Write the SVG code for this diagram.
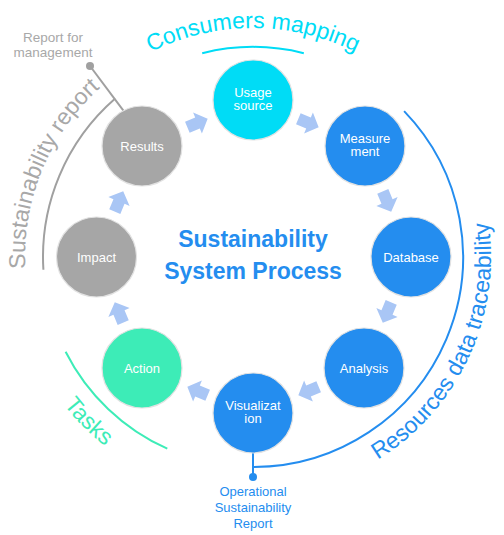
<svg xmlns="http://www.w3.org/2000/svg" xmlns:xlink="http://www.w3.org/1999/xlink" width="504" height="535" viewBox="0 0 504 535">
<style>
  text { font-family: "Liberation Sans", Arial, sans-serif; }
  .node circle { stroke: #e2e2e2; stroke-width: 1.2; }
  .lbl { fill: #ffffff; font-size: 13px; text-anchor: middle; }
  .cyan { fill: #00DCF6; }
  .blue { fill: #248DEF; }
  .green { fill: #3DECB7; }
  .grey { fill: #A6A6A6; }
  .arrow { fill: #A9C6F5; }
  .arc { fill: none; stroke-width: 2; }
  .arctext { font-size: 23px; }
</style>
<defs>
  <polygon id="arr" points="-11,-6 0,-6 0,-11.5 11,0 0,11.5 0,6 -11,6"/>
  <path id="p-consumers" d="M54.7,142.5 A229,229 0 0 1 451.3,142.5"/>
  <path id="p-sustain" d="M72.1,395.8 A228,228 0 0 1 223.2,31.0"/>
  <path id="p-resources" d="M211.7,491.4 A238,238 0 0 0 406,74.7"/>
  <path id="p-tasks" d="M13.9,277.9 A240,240 0 0 0 232.1,496.1"/>
</defs>
<rect width="504" height="535" fill="#ffffff"/>

<g id="arcs">
  <path class="arc" d="M202.2,53.2 A210,210 0 0 1 303.8,53.2" stroke="#00DCF6" stroke-width="2.5"/>
  <path class="arc" d="M43.4,269.8 A210,210 0 0 1 115.2,98.5" stroke="#A0A0A0"/>
  <line x1="90" y1="66" x2="123.4" y2="110.6" stroke="#A0A0A0" stroke-width="2"/>
  <circle cx="90" cy="66" r="4" fill="#A0A0A0"/>
  <path class="arc" d="M404.1,111.1 A210,210 0 0 1 253,467" stroke="#248DEF"/>
  <line x1="253" y1="452" x2="253" y2="477" stroke="#248DEF" stroke-width="2"/>
  <circle cx="253" cy="477" r="4" fill="#248DEF"/>
  <path class="arc" d="M167.3,448.7 A210,210 0 0 1 65.6,351.7" stroke="#3DECB7"/>
</g>

<g id="arc-labels" class="arctext">
  <text fill="#00DCF6"><textPath xlink:href="#p-consumers" href="#p-consumers" startOffset="50%" text-anchor="middle">Consumers mapping</textPath></text>
  <text fill="#A8A8A8"><textPath xlink:href="#p-sustain" href="#p-sustain" startOffset="50%" text-anchor="middle">Sustainability report</textPath></text>
  <text fill="#248DEF"><textPath xlink:href="#p-resources" href="#p-resources" startOffset="50%" text-anchor="middle">Resources data traceability</textPath></text>
  <text fill="#3DECB7"><textPath xlink:href="#p-tasks" href="#p-tasks" startOffset="50%" text-anchor="middle">Tasks</textPath></text>
</g>

<g id="notes" font-size="13.5" text-anchor="middle">
  <text x="53" y="42" fill="#A8A8A8">Report for</text>
  <text x="53" y="57" fill="#A8A8A8">management</text>
  <text x="253" y="496" fill="#248DEF" font-size="13">Operational</text>
  <text x="253" y="512" fill="#248DEF" font-size="13">Sustainability</text>
  <text x="253" y="528" fill="#248DEF" font-size="13">Report</text>
</g>

<g id="title" fill="#248DEF" font-weight="bold" font-size="23" text-anchor="middle">
  <text x="253" y="247">Sustainability</text>
  <text x="253" y="279">System Process</text>
</g>

<g id="connectors" class="arrow">
  <use href="#arr" xlink:href="#arr" transform="translate(197.5,123) rotate(-22.5)"/>
  <use href="#arr" xlink:href="#arr" transform="translate(308.5,123) rotate(22.5)"/>
  <use href="#arr" xlink:href="#arr" transform="translate(387,201.5) rotate(67.5)"/>
  <use href="#arr" xlink:href="#arr" transform="translate(387,312.5) rotate(112.5)"/>
  <use href="#arr" xlink:href="#arr" transform="translate(308.5,391) rotate(157.5)"/>
  <use href="#arr" xlink:href="#arr" transform="translate(197.5,391) rotate(202.5)"/>
  <use href="#arr" xlink:href="#arr" transform="translate(119,312.5) rotate(247.5)"/>
  <use href="#arr" xlink:href="#arr" transform="translate(119,201.5) rotate(292.5)"/>
</g>

<g id="node-usage" class="node">
  <circle cx="253" cy="100" r="40" class="cyan"/>
  <text class="lbl" x="253" y="97">Usage</text>
  <text class="lbl" x="253" y="110">source</text>
</g>
<g id="node-measurement" class="node">
  <circle cx="365" cy="146" r="40" class="blue"/>
  <text class="lbl" x="365" y="143">Measure</text>
  <text class="lbl" x="365" y="156">ment</text>
</g>
<g id="node-database" class="node">
  <circle cx="411" cy="257" r="40" class="blue"/>
  <text class="lbl" x="411" y="261.5">Database</text>
</g>
<g id="node-analysis" class="node">
  <circle cx="364" cy="368" r="40" class="blue"/>
  <text class="lbl" x="364" y="372.5">Analysis</text>
</g>
<g id="node-visualization" class="node">
  <circle cx="253" cy="413" r="40" class="blue"/>
  <text class="lbl" x="253" y="410">Visualizat</text>
  <text class="lbl" x="253" y="423">ion</text>
</g>
<g id="node-action" class="node">
  <circle cx="142" cy="368" r="40" class="green"/>
  <text class="lbl" x="142" y="372.5">Action</text>
</g>
<g id="node-impact" class="node">
  <circle cx="96.5" cy="257" r="40" class="grey"/>
  <text class="lbl" x="96.5" y="261.5">Impact</text>
</g>
<g id="node-results" class="node">
  <circle cx="142" cy="146" r="40" class="grey"/>
  <text class="lbl" x="142" y="150.5">Results</text>
</g>
</svg>
